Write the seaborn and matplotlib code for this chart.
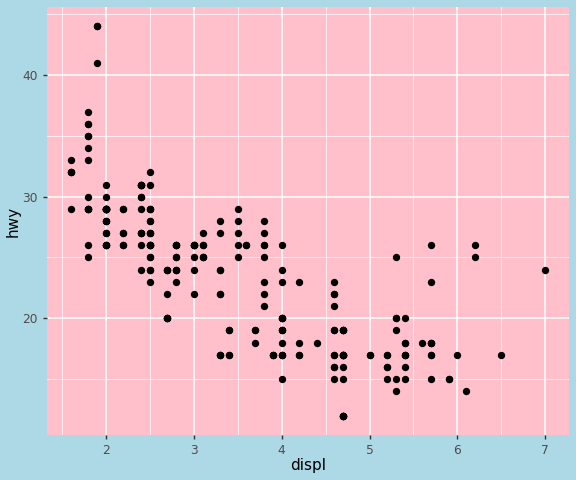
from matplotlib import pyplot as plt
import seaborn as sns
import pandas as pd
from matplotlib.ticker import MultipleLocator

# mpg: engine displacement vs highway mileage
displ = [1.8, 1.8, 2.0, 2.0, 2.8, 2.8, 3.1, 1.8, 1.8, 2.0, 2.0, 2.8, 2.8, 3.1, 3.1, 2.8, 3.1, 4.2,
         5.3, 5.3, 5.3, 5.7, 6.0, 5.7, 5.7, 6.2, 6.2, 7.0, 5.3, 5.3, 5.7, 6.5, 2.4, 2.4, 3.1, 3.5,
         3.6, 2.4, 3.0, 3.3, 3.3, 3.3, 3.3, 3.3, 3.8, 3.8, 3.8, 4.0, 3.7, 3.7, 3.9, 3.9, 4.7, 4.7,
         4.7, 5.2, 5.2, 3.9, 4.7, 4.7, 4.7, 5.2, 5.7, 5.9, 4.7, 4.7, 4.7, 4.7, 4.7, 4.7, 5.2, 5.2,
         5.7, 5.9, 4.6, 5.4, 5.4, 4.0, 4.0, 4.0, 4.0, 4.6, 5.0, 4.2, 4.2, 4.6, 4.6, 4.6, 5.4, 5.4,
         3.8, 3.8, 4.0, 4.0, 4.6, 4.6, 4.6, 4.6, 5.4, 1.6, 1.6, 1.6, 1.6, 1.6, 1.8, 1.8, 1.8, 2.0,
         2.4, 2.4, 2.4, 2.4, 2.5, 2.5, 3.3, 2.0, 2.0, 2.0, 2.0, 2.7, 2.7, 2.7, 3.0, 3.7, 4.0, 4.7,
         4.7, 4.7, 5.7, 6.1, 4.0, 4.2, 4.4, 4.6, 5.4, 5.4, 5.4, 4.0, 4.0, 4.6, 5.0, 2.4, 2.4, 2.5,
         2.5, 3.5, 3.5, 3.0, 3.0, 3.5, 3.3, 3.3, 4.0, 5.6, 3.1, 3.8, 3.8, 3.8, 5.3, 2.5, 2.5, 2.5,
         2.5, 2.5, 2.5, 2.2, 2.2, 2.5, 2.5, 2.5, 2.5, 2.5, 2.5, 2.7, 2.7, 3.4, 3.4, 4.0, 4.7, 2.2,
         2.2, 2.4, 2.4, 3.0, 3.0, 3.5, 2.2, 2.2, 2.4, 2.4, 3.0, 3.0, 3.3, 1.8, 1.8, 1.8, 1.8, 1.8,
         4.7, 5.7, 2.7, 2.7, 2.7, 3.4, 3.4, 4.0, 4.0, 2.0, 2.0, 2.0, 2.0, 2.8, 1.9, 2.0, 2.0, 2.0,
         2.0, 2.5, 2.5, 2.8, 2.8, 1.9, 1.9, 2.0, 2.0, 2.5, 2.5, 1.8, 1.8, 2.0, 2.0, 2.8, 2.8, 3.6]
hwy = [29, 29, 31, 30, 26, 26, 27, 26, 25, 28, 27, 25, 25, 25, 25, 24, 25, 23,
       20, 15, 20, 17, 17, 26, 23, 26, 25, 24, 19, 14, 15, 17, 27, 30, 26, 29,
       26, 24, 24, 22, 22, 24, 24, 17, 22, 21, 23, 23, 19, 18, 17, 17, 19, 19,
       12, 17, 17, 17, 17, 12, 17, 16, 18, 15, 16, 12, 17, 17, 12, 17, 15, 16,
       17, 15, 17, 17, 18, 17, 19, 17, 19, 19, 17, 17, 17, 16, 16, 17, 15, 17,
       26, 25, 26, 24, 21, 22, 23, 22, 20, 33, 32, 32, 29, 32, 34, 36, 36, 29,
       26, 27, 30, 31, 26, 26, 28, 26, 29, 28, 27, 24, 24, 24, 22, 19, 20, 17,
       12, 19, 18, 14, 15, 18, 18, 15, 17, 16, 18, 17, 19, 19, 17, 29, 27, 31,
       32, 27, 26, 26, 25, 25, 17, 17, 20, 18, 26, 26, 27, 28, 25, 25, 24, 27,
       25, 26, 23, 26, 26, 26, 26, 28, 27, 24, 27, 20, 20, 19, 17, 20, 19, 29,
       27, 31, 31, 26, 26, 28, 27, 29, 31, 31, 26, 26, 27, 30, 33, 35, 37, 35,
       15, 18, 20, 20, 22, 17, 19, 18, 20, 29, 26, 29, 29, 24, 44, 29, 26, 29,
       29, 29, 29, 23, 24, 44, 41, 29, 26, 28, 29, 29, 29, 28, 29, 26, 26, 26]

df = pd.DataFrame({"displ": displ, "hwy": hwy})

fig = plt.figure(figsize=(5.76, 4.8), dpi=100, facecolor="lightblue")
ax = fig.add_axes([47 / 576, 45 / 480, 522 / 576, 428 / 480])
ax.set_facecolor("pink")

sns.scatterplot(data=df, x="displ", y="hwy", ax=ax, color="black", s=28, linewidth=0, zorder=3)

ax.set_xlim(1.33, 7.27)
ax.set_ylim(10.4, 45.6)
ax.xaxis.set_major_locator(MultipleLocator(1))
ax.xaxis.set_minor_locator(MultipleLocator(0.5))
ax.yaxis.set_major_locator(MultipleLocator(10))
ax.yaxis.set_minor_locator(MultipleLocator(5))
ax.set_axisbelow(True)
ax.grid(which="major", color="white", linewidth=1.1)
ax.grid(which="minor", color="white", linewidth=0.5)
for s in ax.spines.values():
    s.set_visible(False)
ax.tick_params(which="major", length=3, color="#333333", labelcolor="#4D4D4D", labelsize=8.8, width=1)
ax.tick_params(which="minor", length=0)
ax.set_xlabel("displ", fontsize=11, labelpad=1)
ax.set_ylabel("hwy", fontsize=11, labelpad=1)

plt.savefig("out.png", dpi=100, facecolor="lightblue")
